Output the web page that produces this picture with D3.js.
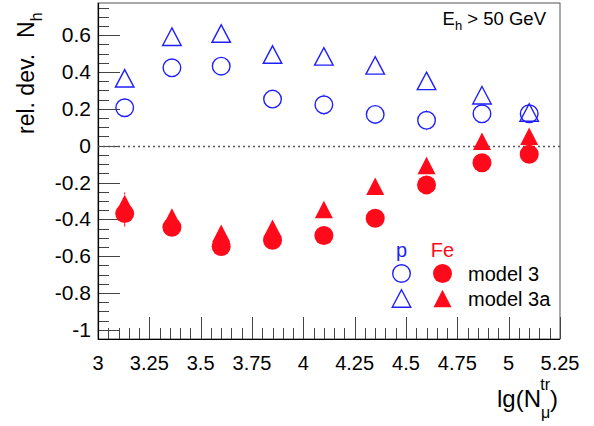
<!DOCTYPE html>
<html>
<head>
<meta charset="utf-8">
<script src="https://cdn.jsdelivr.net/npm/d3@7"></script>
<style>
  body { margin: 0; background: #fff; }
  text { font-family: "Liberation Sans", Arial, sans-serif; fill: #000; }
</style>
</head>
<body>
<div id="chart"></div>
<script>
// bin centres in lg(N_mu^tr)
const lgN = [3.13, 3.36, 3.60, 3.85, 4.10, 4.35, 4.60, 4.87, 5.10];

// relative deviation of N_h
const pModel3   = [0.206, 0.423, 0.432, 0.253, 0.222, 0.170, 0.138, 0.173, 0.173];
const pModel3a  = [0.366, 0.592, 0.609, 0.495, 0.485, 0.436, 0.352, 0.274, 0.180];
const feModel3  = [-0.369, -0.443, -0.548, -0.514, -0.488, -0.394, -0.213, -0.093, -0.047];
const feModel3a = [-0.314, -0.388, -0.476, -0.449, -0.347, -0.221, -0.108, 0.024, 0.051];

// statistical errors (mostly hidden by markers)
const pModel3Err   = [0.03, 0.03, 0.03, 0.03, 0.056, 0.03, 0.054, 0.03, 0.03];
const pModel3aErr  = [0.03, 0.03, 0.03, 0.03, 0.03, 0.03, 0.03, 0.03, 0.03];
const feModel3Err  = [0.07, 0.03, 0.03, 0.03, 0.03, 0.03, 0.03, 0.03, 0.03];
const feModel3aErr = [0.06, 0.03, 0.03, 0.03, 0.03, 0.03, 0.03, 0.03, 0.03];

const xTicks = [3, 3.25, 3.5, 3.75, 4, 4.25, 4.5, 4.75, 5, 5.25];
const yTicks = [-1, -0.8, -0.6, -0.4, -0.2, 0, 0.2, 0.4, 0.6];

const WIDTH = 594, HEIGHT = 426;
const BLUE = "#1f1fff", RED = "#ff0a1a";

const svg = d3.select("#chart").append("svg")
  .attr("width", WIDTH)
  .attr("height", HEIGHT);

const x = d3.scaleLinear().domain([3, 5.25]).range([98, 560]);
const y = d3.scaleLinear().domain([-1.05, 0.775]).range([339, 3]);

// frame
svg.append("rect")
  .attr("x", 98).attr("y", 3)
  .attr("width", 462).attr("height", 336)
  .attr("fill", "none").attr("stroke", "#555").attr("stroke-width", 1);

// minor + major ticks drawn inside the frame
const xMinor = d3.range(3, 5.2501, 0.05);
svg.selectAll(".xtick")
  .data(xMinor)
  .enter().append("line")
  .attr("x1", function(d) { return Math.round(x(d)) + 0.5; })
  .attr("x2", function(d) { return Math.round(x(d)) + 0.5; })
  .attr("y1", 339)
  .attr("y2", function(d) {
    return Math.abs(d / 0.25 - Math.round(d / 0.25)) < 1e-6 ? 317 : 328;
  })
  .attr("stroke", "#444").attr("stroke-width", 1);

const yMinor = d3.range(-1.05, 0.7751, 0.05);
svg.selectAll(".ytick")
  .data(yMinor)
  .enter().append("line")
  .attr("y1", function(d) { return Math.round(y(d)) + 0.5; })
  .attr("y2", function(d) { return Math.round(y(d)) + 0.5; })
  .attr("x1", 98)
  .attr("x2", function(d) {
    return Math.abs(d / 0.2 - Math.round(d / 0.2)) < 1e-6 ? 120 : 109;
  })
  .attr("stroke", "#444").attr("stroke-width", 1);

// axis lines
svg.append("line").attr("x1", 98.5).attr("x2", 98.5).attr("y1", 3).attr("y2", 339.5)
  .attr("stroke", "#000").attr("stroke-width", 1.2);
svg.append("line").attr("x1", 98).attr("x2", 560).attr("y1", 339.5).attr("y2", 339.5)
  .attr("stroke", "#000").attr("stroke-width", 1.2);

// tick labels (plain hyphen for minus, like the original)
svg.selectAll(".xlab")
  .data(xTicks)
  .enter().append("text")
  .attr("x", function(d) { return x(d); })
  .attr("y", 370)
  .attr("text-anchor", "middle")
  .style("font-size", "20px")
  .text(function(d) { return String(d); });

svg.selectAll(".ylab")
  .data(yTicks)
  .enter().append("text")
  .attr("x", 91)
  .attr("y", function(d) { return y(d) + 7; })
  .attr("text-anchor", "end")
  .style("font-size", "21px")
  .text(function(d) { return String(d); });

// axis titles
const xt = svg.append("text")
  .attr("x", 558).attr("y", 407)
  .attr("text-anchor", "end")
  .style("font-size", "24px");
xt.append("tspan").text("lg(N");
xt.append("tspan").attr("dy", 11).style("font-size", "16px").text("μ");
xt.append("tspan").attr("dx", -10).attr("dy", -28).style("font-size", "16px").text("tr");
xt.append("tspan").attr("dy", 17).text(")");

const yt = svg.append("text")
  .attr("transform", "translate(34,134) rotate(-90)")
  .attr("text-anchor", "start")
  .style("font-size", "23px");
yt.append("tspan").text("rel. dev.");
yt.append("tspan").attr("dx", 16).text("N");
yt.append("tspan").attr("dy", 8).style("font-size", "16px").text("h");

// energy cut label
const et = svg.append("text")
  .attr("x", 546).attr("y", 25)
  .attr("text-anchor", "end")
  .style("font-size", "18.5px");
et.append("tspan").text("E");
et.append("tspan").attr("dy", 5).style("font-size", "13px").text("h");
et.append("tspan").attr("dy", -5).text(" > 50 GeV");

// zero line
svg.append("line")
  .attr("x1", 98).attr("x2", 560)
  .attr("y1", Math.round(y(0)) + 0.5).attr("y2", Math.round(y(0)) + 0.5)
  .attr("stroke", "#555").attr("stroke-width", 1.3)
  .attr("stroke-dasharray", "2,3");

function triPath(w, h) {
  return "M0," + (-h / 2) + "L" + (w / 2) + "," + (h / 2) + "L" + (-w / 2) + "," + (h / 2) + "Z";
}

function errorBars(vals, errs, color, rad) {
  const g = svg.append("g");
  vals.forEach(function(v, i) {
    const cx = x(lgN[i]), cy = y(v);
    const top = y(v + errs[i]), bot = y(v - errs[i]);
    if (cy - top > rad) {
      g.append("line").attr("x1", cx).attr("x2", cx).attr("y1", top).attr("y2", cy - rad)
        .attr("stroke", color).attr("stroke-width", 1);
      g.append("line").attr("x1", cx).attr("x2", cx).attr("y1", bot).attr("y2", cy + rad)
        .attr("stroke", color).attr("stroke-width", 1);
    }
  });
}

errorBars(pModel3, pModel3Err, BLUE, 9.5);
errorBars(pModel3a, pModel3aErr, BLUE, 9.5);
errorBars(feModel3, feModel3Err, RED, 9.5);
errorBars(feModel3a, feModel3aErr, RED, 9);

// markers
svg.selectAll(".p3")
  .data(pModel3)
  .enter().append("circle")
  .attr("cx", function(d, i) { return x(lgN[i]); })
  .attr("cy", function(d) { return y(d); })
  .attr("r", 8.8)
  .attr("fill", "none").attr("stroke", BLUE).attr("stroke-width", 1.4);

svg.selectAll(".p3a")
  .data(pModel3a)
  .enter().append("path")
  .attr("transform", function(d, i) { return "translate(" + x(lgN[i]) + "," + y(d) + ")"; })
  .attr("d", triPath(18.5, 17.5))
  .attr("fill", "none").attr("stroke", BLUE).attr("stroke-width", 1.4);

svg.selectAll(".fe3")
  .data(feModel3)
  .enter().append("circle")
  .attr("cx", function(d, i) { return x(lgN[i]); })
  .attr("cy", function(d) { return y(d); })
  .attr("r", 9.5)
  .attr("fill", RED);

svg.selectAll(".fe3a")
  .data(feModel3a)
  .enter().append("path")
  .attr("transform", function(d, i) { return "translate(" + x(lgN[i]) + "," + y(d) + ")"; })
  .attr("d", triPath(18, 17.5))
  .attr("fill", RED);

// legend
svg.append("text").attr("x", 401.5).attr("y", 257).attr("text-anchor", "middle")
  .style("font-size", "20px").style("fill", BLUE).text("p");
svg.append("text").attr("x", 442.5).attr("y", 257).attr("text-anchor", "middle")
  .style("font-size", "20px").style("fill", RED).text("Fe");

svg.append("circle").attr("cx", 401.5).attr("cy", 273.5).attr("r", 8.8)
  .attr("fill", "none").attr("stroke", BLUE).attr("stroke-width", 1.4);
svg.append("circle").attr("cx", 442.5).attr("cy", 273.5).attr("r", 9.5)
  .attr("fill", RED);
svg.append("path").attr("transform", "translate(401.5,298.5)").attr("d", triPath(18.5, 17.5))
  .attr("fill", "none").attr("stroke", BLUE).attr("stroke-width", 1.4);
svg.append("path").attr("transform", "translate(442.5,298.5)").attr("d", triPath(18, 17.5))
  .attr("fill", RED);

svg.append("text").attr("x", 468).attr("y", 281)
  .style("font-size", "20px").text("model 3");
svg.append("text").attr("x", 468).attr("y", 306)
  .style("font-size", "20px").text("model 3a");
</script>
</body>
</html>
